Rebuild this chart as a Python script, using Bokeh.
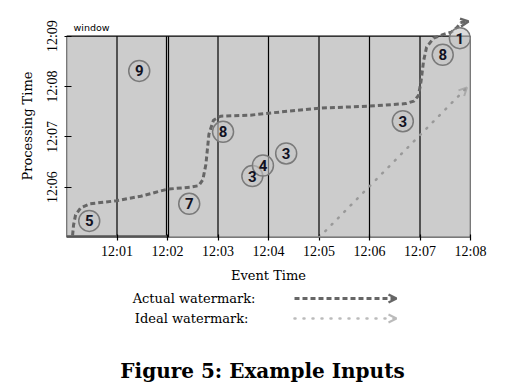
from bokeh.plotting import figure
from bokeh.models import Range1d, FixedTicker, Arrow, OpenHead
from bokeh.layouts import column
from bokeh.core.properties import value
from bokeh.embed import file_html
from bokeh.resources import INLINE

# ---- data (minutes after 12:00 for event time, processing time) ----
x_ticks = [1, 2, 3, 4, 5, 6, 7, 8]
x_tick_labels = ["12:01", "12:02", "12:03", "12:04", "12:05", "12:06", "12:07", "12:08"]
y_ticks = [6, 7, 8, 9]
y_tick_labels = ["12:06", "12:07", "12:08", "12:09"]
window_edges = [1, 1.98, 2.02, 3, 4, 5, 6, 7]

event_times = [0.45, 1.44, 2.43, 3.10, 3.68, 3.89, 4.35, 6.66, 7.45, 7.79]
proc_times = [5.33, 8.31, 5.67, 7.10, 6.22, 6.43, 6.67, 7.31, 8.63, 8.96]
scores = ["5", "9", "7", "8", "3", "4", "3", "3", "8", "1"]

wm_event = [0.12, 0.14, 0.18, 0.28, 0.47, 0.99, 1.47, 2.0, 2.45, 2.62, 2.70, 2.76, 2.79, 2.82,
            2.91, 3.05, 3.64, 4.0, 5.03, 6.0, 6.72, 6.88, 6.97, 7.02, 7.07, 7.13, 7.27, 7.45, 7.62, 7.74, 7.80]
wm_proc = [5.04, 5.25, 5.45, 5.59, 5.67, 5.73, 5.82, 5.96, 6.0, 6.03, 6.15, 6.45, 6.75, 7.05,
           7.33, 7.41, 7.43, 7.47, 7.57, 7.61, 7.66, 7.71, 7.82, 8.1, 8.5, 8.78, 8.96, 9.03, 9.08, 9.18, 9.27]
wm_head = [7.80, 9.27, 7.96, 9.29]

ideal_start = [5.0, 5.0]
ideal_end = [7.93, 7.98]

legend_labels = ["Actual watermark:", "Ideal watermark:"]
caption = "Figure 5: Example Inputs"

# ---- main chart ----
p = figure(width=500, height=285, output_backend="svg", toolbar_location=None,
           x_range=Range1d(0, 8), y_range=Range1d(5, 9.43),
           min_border_left=66, min_border_right=30, min_border_top=14, min_border_bottom=45)
p.outline_line_color = None
p.xgrid.visible = False
p.ygrid.visible = False
p.background_fill_color = "white"

p.quad(left=[0], right=[8], bottom=[5], top=[9], fill_color="#cccccc",
       line_color="black", line_width=1.3)
p.segment(x0=window_edges, x1=window_edges, y0=[5] * len(window_edges), y1=[9] * len(window_edges),
          line_color="black", line_width=1.2)
p.segment(x0=[0], x1=[2], y0=[5.015], y1=[5.015], line_color="#555555", line_width=3)

# ideal watermark
p.add_layout(Arrow(x_start=ideal_start[0], y_start=ideal_start[1], x_end=ideal_end[0], y_end=ideal_end[1],
                   line_color="#999999", line_width=2.5, line_dash="1 8", line_cap="round",
                   end=OpenHead(size=8, line_color="#aaaaaa", line_width=2)))

# actual watermark
p.line(wm_event, wm_proc, line_color="#666666", line_width=3, line_dash="5 3")
p.add_layout(Arrow(x_start=wm_head[0], y_start=wm_head[1], x_end=wm_head[2], y_end=wm_head[3],
                   line_color="#666666", line_width=3, line_dash="5 3",
                   end=OpenHead(size=8, line_color="#666666", line_width=2.5)))

p.scatter(event_times, proc_times, size=21, fill_color="#c4c4c4", fill_alpha=0.6,
          line_color="#7a7a7a", line_width=1.5)
p.text(event_times, proc_times, text=scores, text_align="center", text_baseline="middle",
       text_font=value("Roboto"), text_font_style="bold", text_font_size="15px",
       text_color="#111122")

p.text([0.14], [9.18], text=["window"], text_align="left", text_baseline="middle",
       text_font=value("DejaVu Sans"), text_font_size="9.5px", text_color="black")

for ax in (p.xaxis[0], p.yaxis[0]):
    ax.axis_line_color = None
    ax.minor_tick_line_color = None
    ax.major_tick_line_color = "black"
    ax.major_tick_line_width = 1.2
    ax.major_label_text_font = "Liberation Serif"
    ax.major_label_text_font_size = "14px"
    ax.major_label_text_color = "black"
    ax.axis_label_text_font = "DejaVu Serif"
    ax.axis_label_text_font_size = "13px"
    ax.axis_label_text_font_style = "normal"
    ax.axis_label_text_color = "black"

p.xaxis.ticker = FixedTicker(ticks=x_ticks)
p.xaxis.major_label_overrides = dict(zip(x_ticks, x_tick_labels))
p.xaxis.axis_label = "Event Time"
p.xaxis.major_tick_in = 3
p.xaxis.major_tick_out = 3
p.xaxis.major_label_standoff = 3
p.xaxis.axis_label_standoff = 6

p.yaxis.ticker = FixedTicker(ticks=y_ticks)
p.yaxis.major_label_overrides = dict(zip(y_ticks, y_tick_labels))
p.yaxis.axis_label = "Processing Time"
p.yaxis.major_label_orientation = "vertical"
p.yaxis.major_tick_in = 5
p.yaxis.major_tick_out = 2
p.yaxis.major_label_standoff = 4
p.yaxis.axis_label_standoff = 8

# ---- legend + caption (frame is aligned with the chart's frame: page x 66..470) ----
q = figure(width=500, height=99, output_backend="svg", toolbar_location=None,
           x_range=Range1d(66, 470), y_range=Range1d(99, 0),
           min_border_left=66, min_border_right=30, min_border_top=0, min_border_bottom=0)
q.axis.visible = False
q.grid.visible = False
q.outline_line_color = None

q.text([255, 248], [13, 33], text=legend_labels, text_align="right", text_baseline="middle",
       text_font=value("DejaVu Serif"), text_font_size="13px", text_color="black")
q.add_layout(Arrow(x_start=294, y_start=13, x_end=396, y_end=13, line_color="#666666",
                   line_width=3, line_dash="5 3",
                   end=OpenHead(size=8, line_color="#666666", line_width=2.5)))
q.add_layout(Arrow(x_start=294, y_start=33, x_end=396, y_end=33, line_color="#bbbbbb",
                   line_width=2.5, line_dash="1 8", line_cap="round",
                   end=OpenHead(size=8, line_color="#bbbbbb", line_width=2)))
q.text([262], [85], text=[caption], text_align="center", text_baseline="middle",
       text_font=value("DejaVu Serif"), text_font_style="bold", text_font_size="20px",
       text_color="black")

layout = column(p, q, spacing=0)
open("out.html", "w").write(file_html(layout, INLINE))
